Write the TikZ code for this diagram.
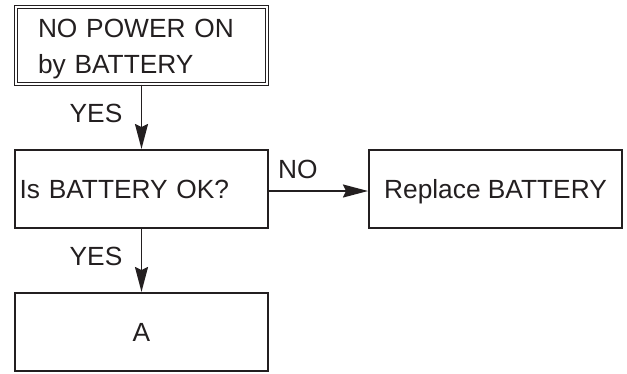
\documentclass[tikz,border=0pt]{standalone}
\usepackage{fontspec}
\setmainfont{Liberation Sans}
\usetikzlibrary{arrows.meta}
\definecolor{ink}{HTML}{231F20}
\begin{document}
\begin{tikzpicture}[x=1pt,y=-1pt,
  every node/.style={font=\fontsize{26.3}{36}\selectfont, text=ink},
  box/.style={draw=ink, line width=1.7pt, inner sep=0pt, minimum width=253.3pt, minimum height=78.3pt, text height=18.9pt, text depth=0pt},
  dbox/.style={draw=ink, double=white, double distance=1.5pt, line width=1.3pt, inner ysep=0pt, inner xsep=21.95pt, minimum width=250.9pt, minimum height=76.9pt, text width=207pt, align=left, text height=19pt, text depth=36pt},
  lbl/.style={inner sep=0pt},
  arr/.style={draw=ink, line width=1.8pt, -{Stealth[length=25pt,width=13pt,inset=3pt]}}]
\useasboundingbox (0,0) rectangle (627,373);
\node[dbox] (start) at (141.5,45.5) {NO POWER ON\\by BATTERY};
\node[box, align=left, inner xsep=4.75pt, text width=243.8pt] (check) at (141.5,189) {Is BATTERY OK?};
\node[box] (replace) at (495.5,189) {Replace BATTERY};
\node[box] (a) at (141.5,332) {A};
\draw[arr] (start.south) -- (check.north);
\draw[arr] (check.south) -- (a.north);
\draw[arr] ([yshift=-2pt]check.east) -- ([yshift=-2pt]replace.west);
\node[lbl, anchor=base east] (yes1) at (122.5,122) {YES};
\node[lbl, anchor=base east] (yes2) at (122.5,265) {YES};
\node[lbl, anchor=base west] (no) at (278,178) {NO};
\end{tikzpicture}
\end{document}
